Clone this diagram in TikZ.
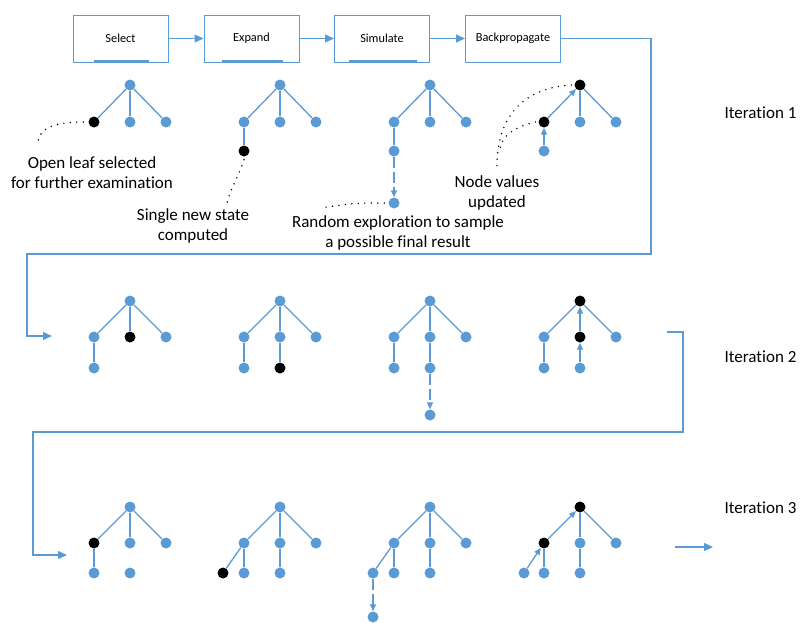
\documentclass[tikz,border=0pt]{standalone}
\usepackage{fontspec}
\setmainfont{Carlito}[Ligatures=NoCommon]
\usetikzlibrary{arrows.meta}
\definecolor{mctsblue}{RGB}{91,155,213}
\tikzset{
    every node/.style={inner sep=0pt},
    state/.style={circle, fill=mctsblue, minimum size=11pt},
    picked/.style={circle, fill=black, minimum size=11pt},
    phase/.style={draw=mctsblue, line width=1pt, minimum width=95pt,
        minimum height=47pt, font=\fontsize{12.3}{15}\selectfont},
    note/.style={align=center, font=\fontsize{17}{20}\selectfont}
}
\tikzset{
    link/.style={mctsblue, line width=1.3pt},
    climb/.style={link, -{Triangle[length=7pt,width=6pt]}},
    rollout/.style={link, dash pattern=on 11pt off 4pt,
        -{Triangle[length=7pt,width=6pt]}},
    flow/.style={mctsblue, line width=1.3pt, -{Triangle[length=9pt,width=8pt]}},
    hint/.style={line width=1.6pt, dash pattern=on 0pt off 6.5pt, line cap=round},
    bar/.style={mctsblue, line width=3pt}
}

\begin{document}
\begin{tikzpicture}[x=1pt,y=-1pt]
	\useasboundingbox (0,0) rectangle (800,622);

	% phases
	\node[phase] (sel) at (120.5,38.5) {Select};
	\node[phase] (exp) at (251.5,38.5) {Expand};
	\node[phase] (sim) at (382,38.5) {Simulate};
	\node[phase] (bp) at (513,38.5) {Backpropagate};
	\draw[bar] ([xshift=-27pt,yshift=1.5pt]sel.south) -- ([xshift=28pt,yshift=1.5pt]sel.south);
	\draw[bar] ([xshift=-29.5pt,yshift=1.5pt]exp.south) -- ([xshift=31.5pt,yshift=1.5pt]exp.south);
	\draw[bar] ([xshift=-33pt,yshift=1.5pt]sim.south) -- ([xshift=35pt,yshift=1.5pt]sim.south);
	\draw[flow] (sel) -- (exp); \draw[flow] (exp) -- (sim); \draw[flow] (sim) -- (bp);

	% iteration 1
	\node[state] (s1r) at (130,85) {};
	\node[picked] (s1a) at (94,122) {};
	\node[state] (s1b) at (130,122) {};
	\node[state] (s1c) at (166,122) {};
	\draw[link] (s1r) -- (s1a); \draw[link] (s1r) -- (s1b); \draw[link] (s1r) -- (s1c);

	\node[state] (e1r) at (280,85) {};
	\node[state] (e1a) at (244,122) {};
	\node[state] (e1b) at (280,122) {};
	\node[state] (e1c) at (316,122) {};
	\node[picked] (e1g) at (244,151) {};
	\draw[link] (e1r) -- (e1a); \draw[link] (e1r) -- (e1b); \draw[link] (e1r) -- (e1c);
	\draw[link] (e1a) -- (e1g);

	\node[state] (m1r) at (430,85) {};
	\node[state] (m1a) at (394,122) {};
	\node[state] (m1b) at (430,122) {};
	\node[state] (m1c) at (466,122) {};
	\node[state] (m1g) at (394,151) {};
	\node[state] (m1e) at (394,203) {};
	\draw[link] (m1r) -- (m1a); \draw[link] (m1r) -- (m1b); \draw[link] (m1r) -- (m1c);
	\draw[link] (m1a) -- (m1g); \draw[rollout] (m1g) -- (m1e);

	\node[picked] (b1r) at (580,85) {};
	\node[picked] (b1a) at (544,122) {};
	\node[state] (b1b) at (580,122) {};
	\node[state] (b1c) at (616,122) {};
	\node[state] (b1g) at (544,151) {};
	\draw[climb] (b1a) -- (b1r); \draw[link] (b1r) -- (b1b); \draw[link] (b1r) -- (b1c);
	\draw[climb] (b1g) -- (b1a);

	% notes
	\node[note] (n1) at (92,173) {Open leaf selected\\for further examination};
	\node[note] (n2) at (193,225.5) {Single new state\\computed};
	\node[note] (n3) at (398,233) {Random exploration to sample\\a possible final result};
	\node[note] (n4) at (497,193) {Node values\\updated};
	\draw[hint] ([xshift=-5pt]s1a.west) .. controls (55,122) and (40,128) .. (38,141);
	\draw[hint] ([yshift=-3pt]e1g.south) .. controls (238,178) and (230,190) .. (227,203);
	\draw[hint] ([xshift=-4pt]m1e.west) .. controls (355,203) .. (320,208);
	\draw[hint] ([xshift=-3pt]b1r.west) .. controls (520,88) and (497,120) .. (497,166);
	\draw[hint] ([xshift=-3pt]b1a.west) .. controls (515,127) and (502,135) .. (500,149);

	\node[note] (it1) at (760.5,113) {Iteration 1};

	% iteration 2
	\node[state] (s2r) at (130,301) {};
	\node[state] (s2a) at (94,337) {};
	\node[picked] (s2b) at (130,337) {};
	\node[state] (s2c) at (166,337) {};
	\node[state] (s2g) at (94,368) {};
	\draw[link] (s2r) -- (s2a); \draw[link] (s2r) -- (s2b); \draw[link] (s2r) -- (s2c);
	\draw[link] (s2a) -- (s2g);

	\node[state] (e2r) at (280,301) {};
	\node[state] (e2a) at (244,337) {};
	\node[state] (e2b) at (280,337) {};
	\node[state] (e2c) at (316,337) {};
	\node[state] (e2g) at (244,368) {};
	\node[picked] (e2h) at (280,368) {};
	\draw[link] (e2r) -- (e2a); \draw[link] (e2r) -- (e2b); \draw[link] (e2r) -- (e2c);
	\draw[link] (e2a) -- (e2g); \draw[link] (e2b) -- (e2h);

	\node[state] (m2r) at (430,301) {};
	\node[state] (m2a) at (394,337) {};
	\node[state] (m2b) at (430,337) {};
	\node[state] (m2c) at (466,337) {};
	\node[state] (m2g) at (394,368) {};
	\node[state] (m2h) at (430,368) {};
	\node[state] (m2e) at (430,415) {};
	\draw[link] (m2r) -- (m2a); \draw[link] (m2r) -- (m2b); \draw[link] (m2r) -- (m2c);
	\draw[link] (m2a) -- (m2g); \draw[link] (m2b) -- (m2h); \draw[rollout] (m2h) -- (m2e);

	\node[picked] (b2r) at (580,301) {};
	\node[state] (b2a) at (544,337) {};
	\node[picked] (b2b) at (580,337) {};
	\node[state] (b2c) at (616,337) {};
	\node[state] (b2g) at (544,368) {};
	\node[state] (b2h) at (580,368) {};
	\draw[link] (b2r) -- (b2a); \draw[climb] (b2b) -- (b2r); \draw[link] (b2r) -- (b2c);
	\draw[link] (b2a) -- (b2g); \draw[climb] (b2h) -- (b2b);

	\node[note] (it2) at (760.5,357) {Iteration 2};

	% iteration 3
	\node[state] (s3r) at (130,507) {};
	\node[picked] (s3a) at (94,543) {};
	\node[state] (s3b) at (130,543) {};
	\node[state] (s3c) at (166,543) {};
	\node[state] (s3g) at (94,573) {};
	\node[state] (s3h) at (130,573) {};
	\draw[link] (s3r) -- (s3a); \draw[link] (s3r) -- (s3b); \draw[link] (s3r) -- (s3c);
	\draw[link] (s3a) -- (s3g);

	\node[state] (e3r) at (280,507) {};
	\node[state] (e3a) at (244,543) {};
	\node[state] (e3b) at (280,543) {};
	\node[state] (e3c) at (316,543) {};
	\node[picked] (e3f) at (223,573) {};
	\node[state] (e3g) at (244,573) {};
	\node[state] (e3h) at (280,573) {};
	\draw[link] (e3r) -- (e3a); \draw[link] (e3r) -- (e3b); \draw[link] (e3r) -- (e3c);
	\draw[link] (e3a) -- (e3f); \draw[link] (e3a) -- (e3g); \draw[link] (e3b) -- (e3h);

	\node[state] (m3r) at (430,507) {};
	\node[state] (m3a) at (394,543) {};
	\node[state] (m3b) at (430,543) {};
	\node[state] (m3c) at (466,543) {};
	\node[state] (m3f) at (373,573) {};
	\node[state] (m3g) at (394,573) {};
	\node[state] (m3h) at (430,573) {};
	\node[state] (m3e) at (373,617) {};
	\draw[link] (m3r) -- (m3a); \draw[link] (m3r) -- (m3b); \draw[link] (m3r) -- (m3c);
	\draw[link] (m3a) -- (m3f); \draw[link] (m3a) -- (m3g); \draw[link] (m3b) -- (m3h);
	\draw[rollout] (m3f) -- (m3e);

	\node[picked] (b3r) at (580,507) {};
	\node[picked] (b3a) at (544,543) {};
	\node[state] (b3b) at (580,543) {};
	\node[state] (b3c) at (616,543) {};
	\node[state] (b3f) at (524,573) {};
	\node[state] (b3g) at (544,573) {};
	\node[state] (b3h) at (580,573) {};
	\draw[climb] (b3a) -- (b3r); \draw[link] (b3r) -- (b3b); \draw[link] (b3r) -- (b3c);
	\draw[climb] (b3f) -- (b3a); \draw[link] (b3a) -- (b3g); \draw[link] (b3b) -- (b3h);

	\node[note] (it3) at (760.5,508) {Iteration 3};

	% loops between iterations
	\coordinate (w1a) at (651,254);
	\coordinate (w1b) at (27,254);
	\coordinate (w1c) at (52,336);
	\draw[flow] (bp.east) -| (w1a) -- (w1b) |- (w1c);
	\coordinate (w2s) at (667,332);
	\coordinate (w2a) at (683,432);
	\coordinate (w2b) at (33,432);
	\coordinate (w2c) at (67,555);
	\draw[flow] (w2s) -| (w2a) -- (w2b) |- (w2c);
	\coordinate (w3s) at (675,547);
	\coordinate (w3e) at (713,547);
	\draw[flow] (w3s) -- (w3e);
\end{tikzpicture}
\end{document}
